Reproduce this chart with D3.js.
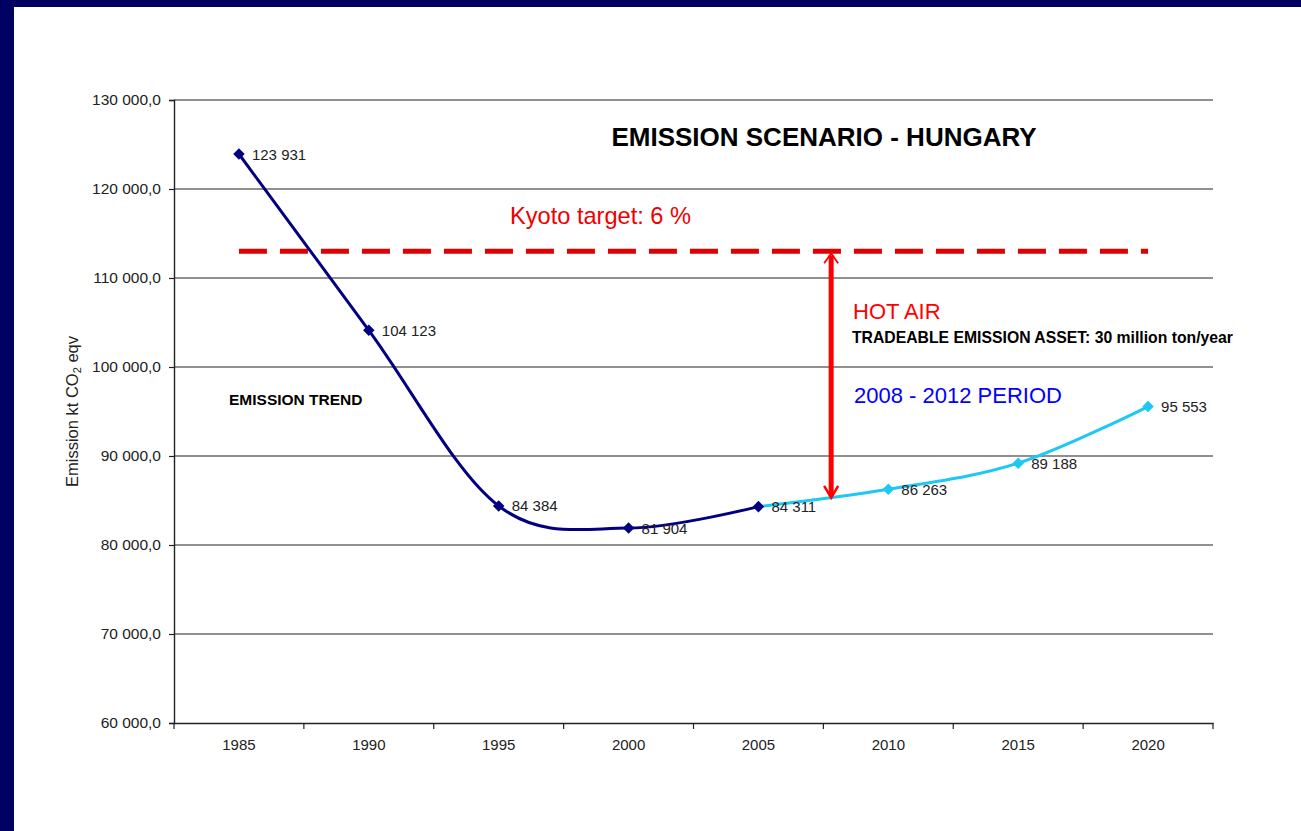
<!DOCTYPE html>
<html><head><meta charset="utf-8">
<script src="https://cdn.jsdelivr.net/npm/d3@7"></script>
<style>body{margin:0;background:#fff;}svg{display:block;font-family:"Liberation Sans",Arial,sans-serif;}</style>
</head><body>
<svg id="c" width="1301" height="831"></svg>
<script>
const years = ["1985","1990","1995","2000","2005","2010","2015","2020"];
const trendYears = ["1985","1990","1995","2000","2005"];
const trendValues = [123931, 104123, 84384, 81904, 84311];
const scenarioYears = ["2005","2010","2015","2020"];
const scenarioValues = [84311, 86263, 89188, 95553];
const kyotoValues = [113000, 113000, 113000, 113000, 113000, 113000, 113000, 113000];
const yTicks = [60000, 70000, 80000, 90000, 100000, 110000, 120000, 130000];
const hotAirYear = 2007.8;
const hotAirBottom = 85300;

const svg = d3.select("#c");
svg.append("rect").attr("x",0).attr("y",0).attr("width",1301).attr("height",7).attr("fill","#000063");
svg.append("rect").attr("x",0).attr("y",0).attr("width",14).attr("height",831).attr("fill","#000063");

const L=174, R=1213, T=100, B=723;
const x = d3.scaleBand().domain(years).range([L,R]);
const xc = d => x(d) + x.bandwidth()/2;
const xYear = d3.scaleLinear().domain([1985,2020]).range([xc("1985"), xc("2020")]);
const y = d3.scaleLinear().domain([60000,130000]).range([B,T]);
const fmt = v => d3.format(",.1f")(v).replace(/,/g," ").replace(".",",");
const fmtL = v => d3.format(",")(v).replace(/,/g," ");
const FF = "'Liberation Sans',Arial,sans-serif";

// gridlines
svg.append("g").selectAll("line").data(yTicks.slice(1)).join("line")
  .attr("x1",L).attr("x2",R).attr("y1",d=>y(d)).attr("y2",d=>y(d))
  .attr("stroke","#222").attr("stroke-width",1.2);

// y axis
const ya = svg.append("g").attr("transform",`translate(${L},0)`)
  .call(d3.axisLeft(y).tickValues(yTicks).tickFormat(fmt).tickSize(5).tickPadding(8));
ya.select(".domain").attr("stroke","#222").attr("stroke-width",1.4);
ya.selectAll(".tick line").attr("stroke","#222").attr("stroke-width",1.2);
ya.selectAll("text").attr("font-size","15.5px").attr("fill","#222").style("font-family",FF);

// x axis
const xa = svg.append("g").attr("transform",`translate(0,${B})`)
  .call(d3.axisBottom(x).tickSize(0).tickPadding(16));
xa.select(".domain").attr("stroke","#222").attr("stroke-width",1.4);
xa.selectAll("text").attr("font-size","15px").attr("fill","#222").style("font-family",FF);
svg.append("g").selectAll("line").data(years.map(d=>x(d)).concat([R])).join("line")
  .attr("x1",d=>d).attr("x2",d=>d).attr("y1",B).attr("y2",B+6).attr("stroke","#222").attr("stroke-width",1.2);

// y title
svg.append("text").attr("transform",`translate(78,${(T+B)/2}) rotate(-90)`)
  .attr("text-anchor","middle").attr("font-size","16.5px").attr("fill","#222")
  .html('Emission kt CO<tspan dy="3" font-size="11px">2</tspan><tspan dy="-3"> eqv</tspan>');

// kyoto dashed line
const kyLine = d3.line().x((d,i)=>xc(years[i])).y(d=>y(d));
svg.append("path").attr("d",kyLine(kyotoValues)).attr("fill","none")
  .attr("stroke","#e00000").attr("stroke-width",5).attr("stroke-dasharray","28,13");

// scenario line
const smooth = d3.line().curve(d3.curveCatmullRom.alpha(0));
svg.append("path").attr("d", smooth(scenarioYears.map((d,i)=>[xc(d), y(scenarioValues[i])])))
  .attr("fill","none").attr("stroke","#1ec8f5").attr("stroke-width",3);
// trend line
svg.append("path").attr("d", smooth(trendYears.map((d,i)=>[xc(d), y(trendValues[i])])))
  .attr("fill","none").attr("stroke","#000080").attr("stroke-width",3);

const diamond = d3.symbol().type(d3.symbolDiamond2).size(85);
svg.append("g").selectAll("path").data(scenarioYears.slice(1)).join("path")
  .attr("transform",(d,i)=>`translate(${xc(d)},${y(scenarioValues[i+1])})`)
  .attr("d",diamond).attr("fill","#1ec8f5");
svg.append("g").selectAll("path").data(trendYears).join("path")
  .attr("transform",(d,i)=>`translate(${xc(d)},${y(trendValues[i])})`)
  .attr("d",diamond).attr("fill","#000080");

// data labels
const labels = trendYears.map((d,i)=>({yr:d,v:trendValues[i]}))
  .concat(scenarioYears.slice(1).map((d,i)=>({yr:d,v:scenarioValues[i+1]})));
svg.append("g").selectAll("text").data(labels).join("text")
  .attr("x",d=>xc(d.yr)+13).attr("y",d=>y(d.v)+5.5)
  .attr("font-size","15px").attr("fill","#222").text(d=>fmtL(d.v));

// hot air arrow
const ax = xYear(hotAirYear);
const yTop = y(kyotoValues[0])+2, yBot = y(hotAirBottom);
svg.append("line").attr("x1",ax).attr("x2",ax).attr("y1",yTop+2).attr("y2",yBot-2)
  .attr("stroke","#ff0000").attr("stroke-width",5);
svg.append("path").attr("d",`M${ax-7},${yTop+10}L${ax},${yTop}L${ax+7},${yTop+10}`)
  .attr("fill","none").attr("stroke","#ff0000").attr("stroke-width",1.8);
svg.append("path").attr("d",`M${ax-7},${yBot-12}L${ax},${yBot}L${ax+7},${yBot-12}`)
  .attr("fill","none").attr("stroke","#ff0000").attr("stroke-width",2.5);

// annotations
svg.append("text").attr("x",824).attr("y",146).attr("text-anchor","middle")
  .attr("font-size","26px").attr("font-weight","bold").attr("fill","#000").text("EMISSION SCENARIO - HUNGARY");
svg.append("text").attr("x",510).attr("y",224)
  .attr("font-size","23.6px").attr("fill","#ee0000").text("Kyoto target: 6 %");
svg.append("text").attr("x",853).attr("y",319)
  .attr("font-size","22px").attr("fill","#ff0000").text("HOT AIR");
svg.append("text").attr("x",852).attr("y",343)
  .attr("font-size","15.75px").attr("font-weight","bold").attr("fill","#000").text("TRADEABLE EMISSION ASSET: 30 million ton/year");
svg.append("text").attr("x",854).attr("y",403)
  .attr("font-size","22px").attr("fill","#0000ff").text("2008 - 2012 PERIOD");
svg.append("text").attr("x",229).attr("y",405)
  .attr("font-size","15.5px").attr("font-weight","bold").attr("fill","#000").text("EMISSION TREND");
</script>
</body></html>
